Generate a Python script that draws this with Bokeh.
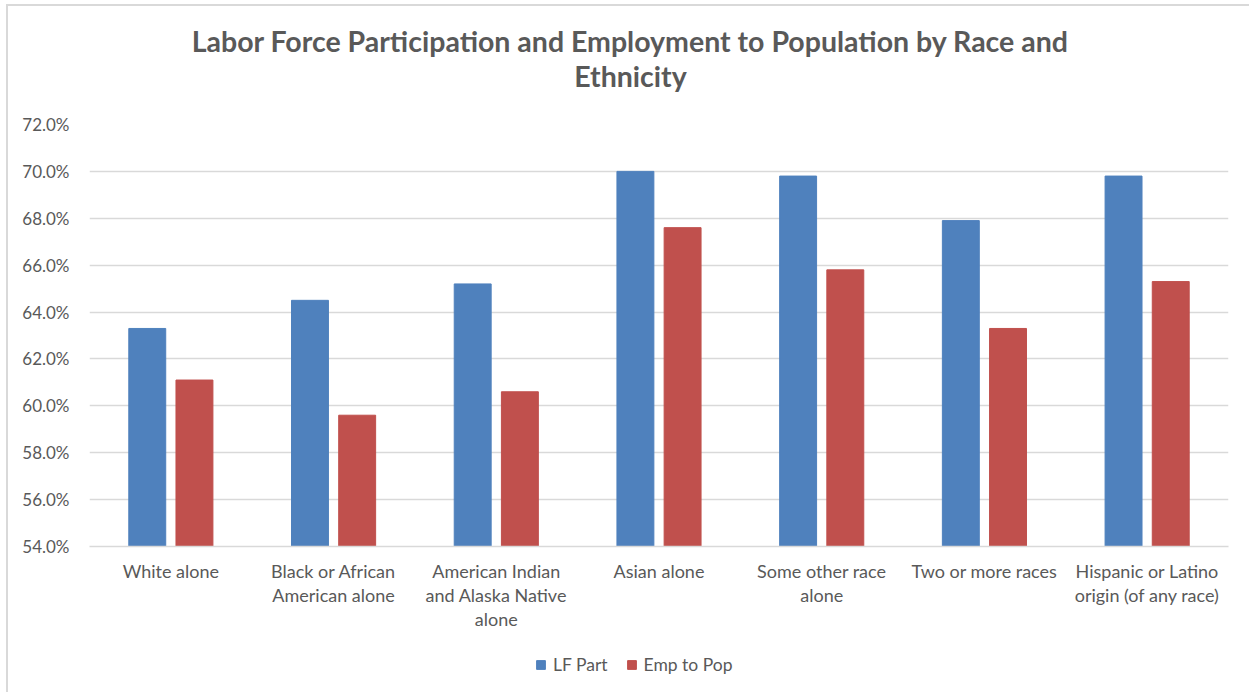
from bokeh.plotting import figure
from bokeh.layouts import column
from bokeh.models import (ColumnDataSource, FactorRange, Range1d, FixedTicker,
                          PrintfTickFormatter, Legend, LegendItem)
from bokeh.core.properties import value
from bokeh.transform import dodge
from bokeh.embed import file_html
from bokeh.resources import INLINE

categories = ["White alone", "Black or African\nAmerican alone",
              "American Indian\nand Alaska Native\nalone", "Asian alone",
              "Some other race\nalone", "Two or more races",
              "Hispanic or Latino\norigin (of any race)"]
lf_part = [63.3, 64.5, 65.2, 70.0, 69.8, 67.9, 69.8]
emp_to_pop = [61.1, 59.6, 60.6, 67.6, 65.8, 63.3, 65.3]
y_ticks = [54, 56, 58, 60, 62, 64, 66, 68, 70, 72]
series_names = ["LF Part", "Emp to Pop"]
series_colors = ["#4F81BD", "#C0504D"]
title_lines = ["Labor Force Participation and Employment to Population by Race and",
               "Ethnicity"]

TEXT = "#595959"
GRID = "#d9d9d9"
FONT = "Lato"
W = 1241          # inner width (page is 1249, minus 6px margin and 2px border)
FRAME_L, FRAME_R = 89, 1228   # page x of the plotting frame (shared by all rows)

# ---- header (title) ----  frame is aligned to the main chart's frame
head = figure(width=W, height=104, output_backend="svg", toolbar_location=None,
              x_range=Range1d(FRAME_L, FRAME_R), y_range=Range1d(110, 6),
              x_axis_location=None, y_axis_location=None,
              min_border=0, outline_line_color=None)
head.grid.visible = False
head.text(x=[630, 630], y=[40, 75], text=title_lines, text_align="center",
          text_baseline="middle", text_font=value(FONT), text_font_size="28.5px",
          text_font_style="bold", text_color=TEXT)

# ---- main chart ----
src = ColumnDataSource(dict(cat=categories, lf=lf_part, emp=emp_to_pop))
p = figure(width=W, height=530, output_backend="svg", toolbar_location=None,
           x_range=FactorRange(factors=categories, range_padding=0),
           y_range=Range1d(y_ticks[0], y_ticks[-1]),
           min_border_left=81, min_border_right=21, min_border_top=14,
           min_border_bottom=94, outline_line_color=None)

p.vbar(x=dodge("cat", -0.145, range=p.x_range), top="lf", bottom=y_ticks[0],
       width=0.227, source=src, fill_color=series_colors[0], line_color=series_colors[0])
p.vbar(x=dodge("cat", 0.145, range=p.x_range), top="emp", bottom=y_ticks[0],
       width=0.227, source=src, fill_color=series_colors[1], line_color=series_colors[1])

p.yaxis.ticker = FixedTicker(ticks=y_ticks)
p.yaxis.formatter = PrintfTickFormatter(format="%.1f%%")
p.yaxis.axis_line_color = None
p.yaxis.major_tick_line_color = None
p.yaxis.minor_tick_line_color = None
p.yaxis.major_label_standoff = 14
p.yaxis.major_label_text_font = FONT
p.yaxis.major_label_text_font_size = "17px"
p.yaxis.major_label_text_color = TEXT

p.xaxis.axis_line_color = GRID
p.xaxis.axis_line_width = 1.5
p.xaxis.major_tick_line_color = None
p.xaxis.minor_tick_line_color = None
p.xaxis.major_label_standoff = 7
p.xaxis.major_label_text_font = FONT
p.xaxis.major_label_text_font_size = "18px"
p.xaxis.major_label_text_line_height = 1.1
p.xaxis.major_label_text_color = TEXT

p.xgrid.grid_line_color = None
p.ygrid.grid_line_color = GRID
p.ygrid.grid_line_width = 1.5

# ---- legend ----
leg = figure(width=W, height=52, output_backend="svg", toolbar_location=None,
             x_range=Range1d(0, 1), y_range=Range1d(0, 1),
             x_axis_location=None, y_axis_location=None,
             min_border=0, outline_line_color=None)
leg.grid.visible = False
# swatch-only renderers (NaN data: nothing drawn, legend glyph still shown)
swatch = ColumnDataSource(dict(x=[float("nan")], top=[float("nan")]))
lr1 = leg.vbar(x="x", top="top", width=0.1, source=swatch,
               fill_color=series_colors[0], line_color=series_colors[0])
lr2 = leg.vbar(x="x", top="top", width=0.1, source=swatch,
               fill_color=series_colors[1], line_color=series_colors[1])
legend = Legend(items=[LegendItem(label=series_names[0], renderers=[lr1]),
                       LegendItem(label=series_names[1], renderers=[lr2])],
                orientation="horizontal", location=(535 - FRAME_L, 17),
                glyph_width=11, glyph_height=11, label_text_font=FONT,
                label_text_font_size="17.5px", label_text_color=TEXT,
                border_line_color=None, background_fill_alpha=0,
                spacing=18, margin=0, padding=0, label_standoff=7)
leg.add_layout(legend)

layout = column(head, p, leg, spacing=0, margin=(4, 0, 0, 6),
                styles={"border-top": "2px solid #d9d9d9",
                        "border-left": "2px solid #d9d9d9"})
open("out.html", "w").write(file_html(layout, INLINE))
